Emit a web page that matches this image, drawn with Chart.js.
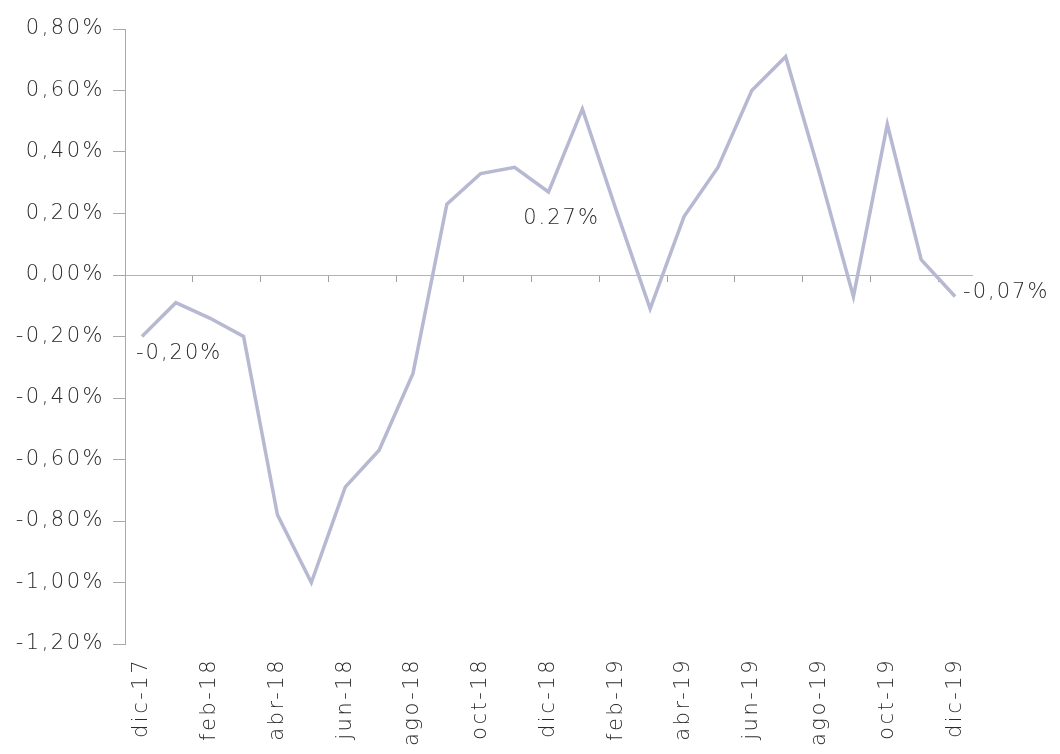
<!DOCTYPE html>
<html>
<head>
<meta charset="utf-8">
<script src="https://cdn.jsdelivr.net/npm/chart.js@4/dist/chart.umd.min.js"></script>
<style>
  html, body { margin: 0; padding: 0; background: #ffffff; overflow: hidden; }
  #wrap { width: 1060px; height: 754px; }
</style>
</head>
<body>
<div id="wrap"><canvas id="c" width="1060" height="754"></canvas></div>
<script>
// ---- data ----
const categories = [
  'dic-17','ene-18','feb-18','mar-18','abr-18','may-18','jun-18','jul-18','ago-18','sep-18','oct-18','nov-18',
  'dic-18','ene-19','feb-19','mar-19','abr-19','may-19','jun-19','jul-19','ago-19','sep-19','oct-19','nov-19','dic-19'
];
const variation = [
  -0.20, -0.09, -0.14, -0.20, -0.78, -1.00, -0.69, -0.57, -0.32, 0.23, 0.33, 0.35,
   0.27,  0.54,  0.21, -0.11,  0.19,  0.35,  0.60,  0.71, 0.33, -0.07, 0.49, 0.05, -0.07
];
const labelledIndex = [0, 12, 24];
const labelledText = ['-0,20%', '0.27%', '-0,07%'];
const yTickMin = -1.2, yTickMax = 0.8, yTickStep = 0.2;

// ---- style ----
const FONT_FAMILY = "'DejaVu Sans', 'Open Sans', sans-serif";
const TEXT_COLOR = '#2a2a2a';
const FONT = { family: FONT_FAMILY, size: 21, weight: 200 };
const LETTER_SPACING = '2.5px';

function fmtPct(v) {
  const r = Math.round(v * 100) / 100;
  return r.toFixed(2).replace('.', ',') + '%';
}

const spacingPlugin = {
  id: 'spacing',
  beforeDraw(chart) { try { chart.ctx.letterSpacing = LETTER_SPACING; } catch (e) {} }
};

const placement = ['belowRight', 'below', 'right'];
const valueLabelPlugin = {
  id: 'valueLabels',
  afterDatasetsDraw(chart) {
    const ctx = chart.ctx;
    const meta = chart.getDatasetMeta(0);
    ctx.save();
    try { ctx.letterSpacing = '2px'; } catch (e) {}
    ctx.font = `${FONT.weight} ${FONT.size}px ${FONT_FAMILY}`;
    ctx.fillStyle = TEXT_COLOR;
    labelledIndex.forEach((idx, k) => {
      const pt = meta.data[idx];
      const p = placement[k];
      if (p === 'belowRight') {
        ctx.textAlign = 'left'; ctx.textBaseline = 'top';
        ctx.fillText(labelledText[k], pt.x - 6, pt.y + 7);
      } else if (p === 'below') {
        ctx.textAlign = 'center'; ctx.textBaseline = 'top';
        ctx.fillText(labelledText[k], pt.x + 13, pt.y + 16);
      } else {
        ctx.textAlign = 'left'; ctx.textBaseline = 'middle';
        ctx.fillText(labelledText[k], pt.x + 8, pt.y - 4);
      }
    });
    ctx.restore();
  }
};

new Chart(document.getElementById('c'), {
  type: 'line',
  data: {
    labels: categories,
    datasets: [{
      data: variation,
      xAxisID: 'x',
      yAxisID: 'y',
      borderColor: '#b6b9d1',
      borderWidth: 3.5,
      pointRadius: 0,
      tension: 0,
      fill: false
    }]
  },
  options: {
    responsive: false,
    animation: false,
    devicePixelRatio: 1,
    layout: { padding: { top: 29, right: 88, left: 0, bottom: 0 } },
    plugins: { legend: { display: false }, tooltip: { enabled: false } },
    scales: {
      x: {
        type: 'category',
        offset: true,
        grid: { display: false, drawTicks: false },
        border: { display: false },
        ticks: {
          autoSkip: false, minRotation: 90, maxRotation: 90, padding: 14,
          color: TEXT_COLOR, font: FONT,
          callback: function (v, i) { return i % 2 === 0 ? this.getLabelForValue(v) : ''; }
        },
        afterFit: (s) => { s.height = 110; }
      },
      x2: {
        type: 'category',
        position: { y: 0 },
        offset: true,
        ticks: { display: false },
        grid: {
          display: true, drawOnChartArea: false, offset: true, tickLength: 6,
          color: (c) => (c.index !== undefined && c.index % 2 === 0) ? '#a0a0a0' : 'rgba(0,0,0,0)'
        },
        border: { display: true, color: '#b4b4b4', width: 1 }
      },
      y: {
        min: yTickMin, max: yTickMax,
        ticks: {
          stepSize: yTickStep, padding: 8, color: TEXT_COLOR, font: FONT,
          callback: (v) => fmtPct(v)
        },
        grid: { drawOnChartArea: false, tickLength: 12, color: '#a8a8a8' },
        border: { display: true, color: '#a8a8a8', width: 1 },
        afterFit: (s) => { s.width = 125; }
      }
    }
  },
  plugins: [spacingPlugin, valueLabelPlugin]
});
</script>
</body>
</html>
